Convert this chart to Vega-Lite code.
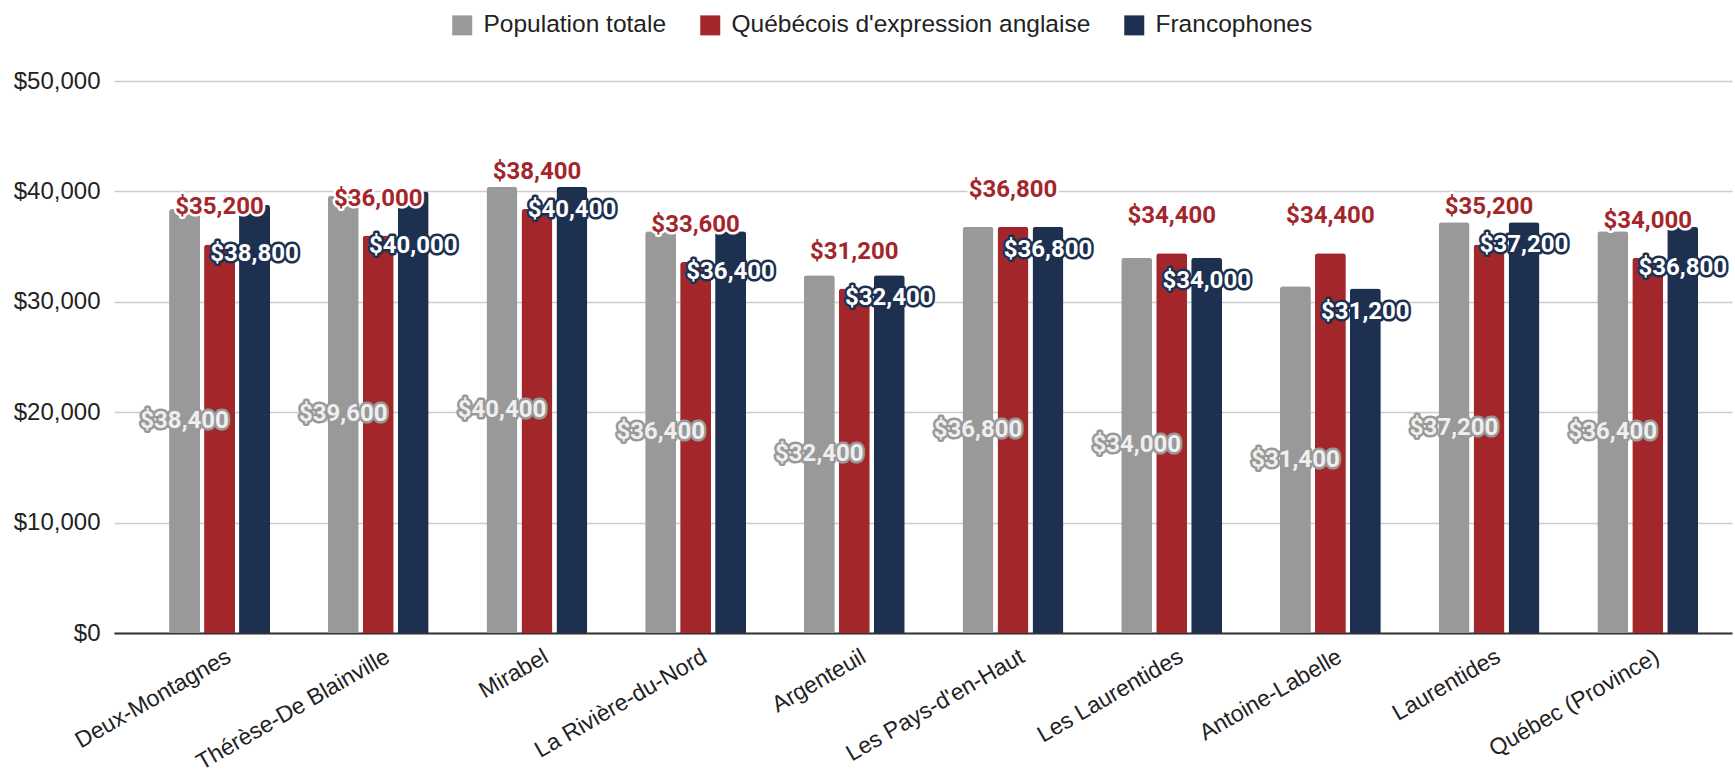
{
  "$schema": "https://vega.github.io/schema/vega-lite/v6.json",
  "autosize": {"type": "none"},
  "padding": {"left": 114, "top": 81, "right": 3, "bottom": 141},
  "width": 1618,
  "height": 552,
  "background": "white",
  "config": {"view": {"stroke": null}, "font": "Liberation Sans"},
  "data": {
    "values": [
      {"region": "Deux-Montagnes", "total": 38400, "anglo": 35200, "franco": 38800},
      {"region": "Thérèse-De Blainville", "total": 39600, "anglo": 36000, "franco": 40000},
      {"region": "Mirabel", "total": 40400, "anglo": 38400, "franco": 40400},
      {"region": "La Rivière-du-Nord", "total": 36400, "anglo": 33600, "franco": 36400},
      {"region": "Argenteuil", "total": 32400, "anglo": 31200, "franco": 32400},
      {"region": "Les Pays-d'en-Haut", "total": 36800, "anglo": 36800, "franco": 36800},
      {"region": "Les Laurentides", "total": 34000, "anglo": 34400, "franco": 34000},
      {"region": "Antoine-Labelle", "total": 31400, "anglo": 34400, "franco": 31200},
      {"region": "Laurentides", "total": 37200, "anglo": 35200, "franco": 37200},
      {"region": "Québec (Province)", "total": 36400, "anglo": 34000, "franco": 36800}
    ]
  },
  "encoding": {
    "x": {
      "field": "region", "type": "nominal", "sort": null,
      "scale": {"paddingInner": 0.364, "paddingOuter": 0.28, "align": 0.62},
      "axis": {
        "title": null, "labelAngle": -30, "labelFontSize": 23, "labelColor": "#222222",
        "ticks": false, "domainColor": "#333333", "domainWidth": 2, "labelPadding": 12, "labelOffset": 4,
        "labelFont": "Liberation Sans", "labelLimit": 0
      }
    }
  },
  "layer": [
    {
      "transform": [{"fold": ["total", "anglo", "franco"], "as": ["serie", "valeur"]}],
      "mark": {"type": "bar", "cornerRadiusTopLeft": 3, "cornerRadiusTopRight": 3},
      "encoding": {
        "xOffset": {"field": "serie", "type": "nominal", "scale": {"domain": ["total", "anglo", "franco"], "paddingInner": 0.114, "paddingOuter": 0}},
        "y": {
          "field": "valeur", "type": "quantitative",
          "scale": {"domain": [0, 50000], "nice": false},
          "axis": {
            "title": null, "values": [0, 10000, 20000, 30000, 40000, 50000], "format": "$,.0f",
            "grid": true, "gridColor": "#cccccc", "gridWidth": 1.5, "domain": false, "ticks": false,
            "labelFontSize": 24, "labelColor": "#222222", "labelPadding": 14, "labelFont": "Liberation Sans"
          }
        },
        "color": {
          "field": "serie", "type": "nominal",
          "scale": {"domain": ["total", "anglo", "franco"], "range": ["#999999", "#a3262b", "#1d3050"]},
          "legend": {
            "title": null, "orient": "none", "direction": "horizontal", "legendX": 336, "legendY": -68,
            "symbolType": "square", "symbolSize": 400, "symbolStrokeWidth": 0, "symbolOpacity": 1,
            "labelFontSize": 24.5, "labelColor": "#222222", "labelOffset": 9, "columnPadding": 31,
            "labelFont": "Liberation Sans", "labelLimit": 0,
            "labelExpr": "datum.label == 'total' ? 'Population totale' : datum.label == 'anglo' ? \"Québécois d'expression anglaise\" : 'Francophones'"
          }
        }
      }
    },
    {
      "mark": {"type": "text", "font": "Roboto", "fontWeight": "bold", "fontSize": 24, "baseline": "middle", "fill": "#999999", "stroke": "#999999", "strokeWidth": 5, "strokeJoin": "round"},
      "encoding": {
        "xOffset": {"datum": "total"},
        "y": {"field": "total", "type": "quantitative", "scale": {"domain": [0, 100000], "nice": false}, "axis": null},
        "text": {"field": "total", "type": "quantitative", "format": "$,.0f"}
      }
    },
    {
      "mark": {"type": "text", "font": "Roboto", "fontWeight": "bold", "fontSize": 24, "baseline": "middle", "fill": "#efefef"},
      "encoding": {
        "xOffset": {"datum": "total"},
        "y": {"field": "total", "type": "quantitative", "scale": {"domain": [0, 100000], "nice": false}, "axis": null},
        "text": {"field": "total", "type": "quantitative", "format": "$,.0f"}
      }
    },
    {
      "mark": {"type": "text", "font": "Roboto", "fontWeight": "bold", "fontSize": 24, "baseline": "middle", "dy": -37, "fill": "#ffffff", "stroke": "#ffffff", "strokeWidth": 5, "strokeJoin": "round"},
      "encoding": {
        "xOffset": {"datum": "anglo"},
        "y": {"field": "anglo", "type": "quantitative", "scale": {"domain": [0, 50000], "nice": false}, "axis": null},
        "text": {"field": "anglo", "type": "quantitative", "format": "$,.0f"}
      }
    },
    {
      "mark": {"type": "text", "font": "Roboto", "fontWeight": "bold", "fontSize": 24, "baseline": "middle", "dy": -37, "fill": "#a3262b"},
      "encoding": {
        "xOffset": {"datum": "anglo"},
        "y": {"field": "anglo", "type": "quantitative", "scale": {"domain": [0, 50000], "nice": false}, "axis": null},
        "text": {"field": "anglo", "type": "quantitative", "format": "$,.0f"}
      }
    },
    {
      "mark": {"type": "text", "font": "Roboto", "fontWeight": "bold", "fontSize": 24, "baseline": "middle",
        "dy": {"expr": "datum.franco - datum.anglo > 2500 ? (datum.franco - datum.anglo) * 0.01104 + 10 : 23"},
        "fill": "#1d3050", "stroke": "#1d3050", "strokeWidth": 5, "strokeJoin": "round"},
      "encoding": {
        "xOffset": {"datum": "franco"},
        "y": {"field": "franco", "type": "quantitative", "scale": {"domain": [0, 50000], "nice": false}, "axis": null},
        "text": {"field": "franco", "type": "quantitative", "format": "$,.0f"}
      }
    },
    {
      "mark": {"type": "text", "font": "Roboto", "fontWeight": "bold", "fontSize": 24, "baseline": "middle",
        "dy": {"expr": "datum.franco - datum.anglo > 2500 ? (datum.franco - datum.anglo) * 0.01104 + 10 : 23"},
        "fill": "#ffffff"},
      "encoding": {
        "xOffset": {"datum": "franco"},
        "y": {"field": "franco", "type": "quantitative", "scale": {"domain": [0, 50000], "nice": false}, "axis": null},
        "text": {"field": "franco", "type": "quantitative", "format": "$,.0f"}
      }
    }
  ],
  "resolve": {"scale": {"y": "independent"}}
}
